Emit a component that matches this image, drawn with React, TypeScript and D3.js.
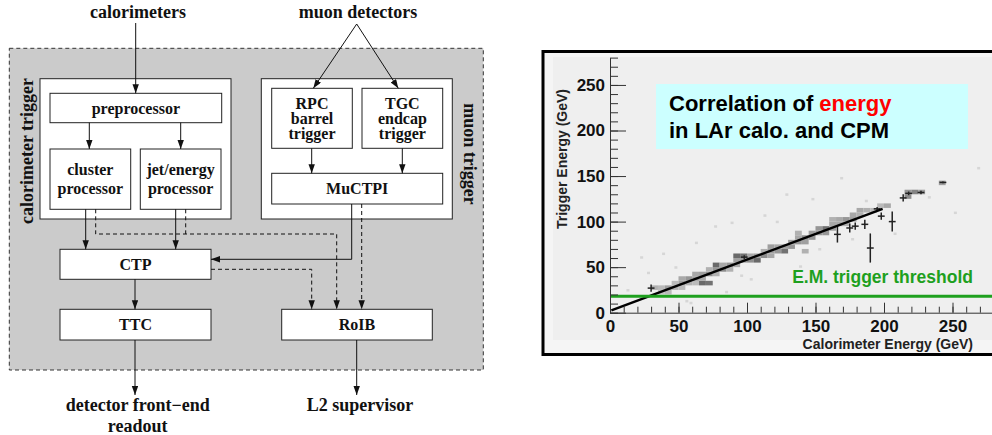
import React, { useEffect, useRef } from 'react';
import * as d3 from 'd3';

// ---- chart data ----
const xMajorTicks = [0, 50, 100, 150, 200, 250];
const yMajorTicks = [0, 50, 100, 150, 200, 250];
const axisMax = 280;

// 2D histogram bins: [calo energy low edge, trigger energy low edge, weight 0..1]
const histBins: [number, number, number][] = [
  [30, 25, 0.35], [35, 20, 0.25], [35, 25, 0.3], [40, 20, 0.3], [40, 25, 0.45], [45, 25, 0.35], [45, 30, 0.3],
  [50, 25, 0.3], [50, 30, 0.45], [50, 35, 0.4], [55, 30, 0.35], [55, 35, 0.5], [60, 30, 0.3], [60, 35, 0.45], [60, 40, 0.4],
  [65, 30, 0.75], [65, 35, 0.4], [65, 40, 0.45], [70, 30, 0.7], [70, 40, 0.55], [70, 45, 0.35],
  [75, 40, 0.35], [75, 45, 0.5], [75, 50, 0.75], [80, 45, 0.55], [80, 50, 0.4], [85, 45, 0.35], [85, 50, 0.5],
  [90, 50, 0.4], [90, 55, 0.45], [90, 60, 0.75], [95, 55, 0.5], [95, 60, 0.7], [100, 55, 0.55], [100, 60, 0.4],
  [105, 55, 0.75], [105, 60, 0.45], [110, 60, 0.55], [110, 65, 0.35], [115, 60, 0.4], [115, 65, 0.45], [115, 70, 0.45],
  [120, 65, 0.5], [120, 70, 0.4], [125, 65, 0.7], [125, 70, 0.45], [130, 70, 0.5], [130, 75, 0.45],
  [135, 75, 0.5], [135, 80, 0.4], [135, 85, 0.35], [140, 65, 0.35], [140, 75, 0.45], [140, 80, 0.55],
  [145, 80, 0.5], [145, 85, 0.45], [150, 85, 0.5], [150, 90, 0.5], [155, 85, 0.5], [155, 90, 0.7],
  [160, 90, 0.45], [160, 95, 0.4], [160, 100, 0.35], [165, 95, 0.4], [165, 100, 0.4], [170, 95, 0.35], [170, 100, 0.5],
  [175, 100, 0.45], [175, 105, 0.4], [180, 105, 0.35], [180, 110, 0.4], [185, 110, 0.35], [190, 110, 0.3],
  [195, 115, 0.3], [200, 115, 0.4], [215, 125, 0.55], [215, 130, 0.5], [220, 130, 0.6], [225, 130, 0.45], [240, 140, 0.45],
];

// faint single entries scattered around
const noiseE = [12, 22, 27, 38, 47, 58, 62, 76, 88, 95, 112, 121, 128, 138, 147, 152, 168, 176, 186, 207, 232, 251, 268, 55, 84, 102];
const noiseT = [26, 62, 45, 66, 51, 12, 78, 96, 100, 42, 108, 101, 131, 52, 126, 71, 149, 82, 124, 88, 128, 111, 160, 14, 24, 38];

// profile points: calo energy, mean trigger energy, error
const profE = [30, 98, 166, 175, 179, 186, 190, 195, 198, 206, 214, 218, 227, 243];
const profT = [27, 61, 86, 93, 95, 97, 71, 114, 106, 100, 126, 131, 132, 143];
const profErr = [4, 2, 9, 5, 4, 5, 16, 2, 4, 11, 4, 2, 2, 1];

const fitE = [1, 199];
const fitT = [2.5, 114];
const threshold = 18;

// ---- diagram layout ----
const diagramBoxes = [
  { x: 40, y: 78.7, w: 191, h: 140.3, lines: [] as string[] },
  { x: 261.3, y: 78.7, w: 191, h: 140.3, lines: [] as string[] },
  { x: 50, y: 93.3, w: 171.7, h: 29.4, lines: ['preprocessor'] },
  { x: 50, y: 149, w: 80.7, h: 60.3, lines: ['cluster', 'processor'] },
  { x: 140.3, y: 149, w: 80.7, h: 60.3, lines: ['jet/energy', 'processor'] },
  { x: 271.7, y: 88.3, w: 80.6, h: 60, lines: ['RPC', 'barrel', 'trigger'] },
  { x: 362, y: 88.3, w: 80.7, h: 60, lines: ['TGC', 'endcap', 'trigger'] },
  { x: 271.7, y: 173.3, w: 171, h: 30.7, lines: ['MuCTPI'] },
  { x: 60, y: 249.3, w: 151, h: 30, lines: ['CTP'] },
  { x: 60, y: 309.3, w: 151, h: 30.7, lines: ['TTC'] },
  { x: 281.7, y: 309.3, w: 150.6, h: 30.7, lines: ['RoIB'] },
];

const arrows: { pts: [number, number][]; dashed?: boolean; head?: boolean }[] = [
  { pts: [[135.7, 23], [135.7, 93.3]] },
  { pts: [[356.7, 24], [313.3, 88.3]] },
  { pts: [[356.7, 24], [398.3, 88.3]] },
  { pts: [[89.3, 122.7], [89.3, 149]] },
  { pts: [[180.7, 122.7], [180.7, 149]] },
  { pts: [[311.7, 148.3], [311.7, 173.3]] },
  { pts: [[402.3, 148.3], [402.3, 173.3]] },
  { pts: [[85.7, 209.3], [85.7, 249.3]] },
  { pts: [[175.7, 209.3], [175.7, 249.3]] },
  { pts: [[351.7, 204], [351.7, 259.3], [211, 259.3]] },
  { pts: [[135, 279.3], [135, 309.3]] },
  { pts: [[135, 340], [135, 395]] },
  { pts: [[356.7, 340], [356.7, 395]] },
  { pts: [[95.7, 209.3], [95.7, 234], [336.7, 234], [336.7, 309.3]], dashed: true },
  { pts: [[185.7, 209.3], [185.7, 234]], dashed: true, head: false },
  { pts: [[361.7, 204], [361.7, 309.3]], dashed: true },
  { pts: [[211, 269.3], [311.7, 269.3], [311.7, 309.3]], dashed: true },
];

const serif = '"Liberation Serif", "Times New Roman", serif';
const sans = '"Liberation Sans", Arial, sans-serif';

export default function App() {
  const svgRef = useRef<SVGSVGElement>(null);

  useEffect(() => {
    if (!svgRef.current) return;
    const svg = d3.select(svgRef.current);
    svg.selectAll('*').remove();

    // ===== block diagram =====
    const defs = svg.append('defs');
    defs.append('marker')
      .attr('id', 'head')
      .attr('markerUnits', 'userSpaceOnUse')
      .attr('markerWidth', 10).attr('markerHeight', 7)
      .attr('refX', 9).attr('refY', 3.2)
      .attr('orient', 'auto')
      .append('path').attr('d', 'M0,0 L9,3.2 L0,6.4 Z').attr('fill', '#111');

    const dg = svg.append('g');
    dg.append('rect')
      .attr('x', 9.3).attr('y', 48.3).attr('width', 474).attr('height', 321.7)
      .attr('fill', '#cbcbcb').attr('stroke', '#333').attr('stroke-dasharray', '4,3');

    diagramBoxes.forEach(b => {
      dg.append('rect')
        .attr('x', b.x).attr('y', b.y).attr('width', b.w).attr('height', b.h)
        .attr('fill', '#fff').attr('stroke', '#222').attr('stroke-width', 1);
      const n = b.lines.length;
      const cx = b.x + b.w / 2;
      const cy = b.y + b.h / 2;
      const gap = n === 2 ? 19.5 : 14.7;
      b.lines.forEach((t, i) => {
        dg.append('text')
          .attr('x', cx)
          .attr('y', cy + (i - (n - 1) / 2) * gap + 5.5)
          .attr('text-anchor', 'middle')
          .attr('font-family', serif).attr('font-weight', 'bold').attr('font-size', 16)
          .attr('fill', '#111')
          .text(t);
      });
    });

    const line = d3.line<[number, number]>();
    arrows.forEach(a => {
      const p = dg.append('path')
        .attr('d', line(a.pts))
        .attr('fill', 'none').attr('stroke', '#111').attr('stroke-width', 1);
      if (a.dashed) p.attr('stroke-dasharray', '4,3');
      if (a.head !== false) p.attr('marker-end', 'url(#head)');
    });

    const outside = [
      { t: 'calorimeters', x: 138, y: 18.3 },
      { t: 'muon detectors', x: 358, y: 18.3 },
      { t: 'detector front\u2212end', x: 137.7, y: 411 },
      { t: 'readout', x: 137.7, y: 431.5 },
      { t: 'L2 supervisor', x: 360, y: 411 },
    ];
    outside.forEach(o => {
      dg.append('text').attr('x', o.x).attr('y', o.y)
        .attr('text-anchor', 'middle')
        .attr('font-family', serif).attr('font-weight', 'bold').attr('font-size', 18)
        .attr('fill', '#111').text(o.t);
    });
    dg.append('text')
      .attr('transform', 'translate(33,151) rotate(-90)')
      .attr('text-anchor', 'middle')
      .attr('font-family', serif).attr('font-weight', 'bold').attr('font-size', 18)
      .attr('fill', '#111').text('calorimeter trigger');
    dg.append('text')
      .attr('transform', 'translate(463.7,154) rotate(90)')
      .attr('text-anchor', 'middle')
      .attr('font-family', serif).attr('font-weight', 'bold').attr('font-size', 18)
      .attr('fill', '#111').text('muon trigger');

    // ===== correlation plot =====
    const cg = svg.append('g');
    cg.append('rect')
      .attr('x', 543).attr('y', 51.5).attr('width', 470).attr('height', 303)
      .attr('fill', '#f5f5f5').attr('stroke', '#000').attr('stroke-width', 3);
    cg.append('rect')
      .attr('x', 553).attr('y', 57).attr('width', 460).attr('height', 283)
      .attr('fill', '#efefef');

    const x = d3.scaleLinear().domain([0, axisMax]).range([610, 610 + 1.37 * axisMax]);
    const y = d3.scaleLinear().domain([0, axisMax]).range([312.7, 312.7 - 0.911 * axisMax]);

    // title box
    cg.append('rect')
      .attr('x', 656).attr('y', 84).attr('width', 312).attr('height', 65)
      .attr('fill', '#ccffff');
    const t1 = cg.append('text')
      .attr('x', 669).attr('y', 111)
      .attr('font-family', sans).attr('font-weight', 'bold').attr('font-size', 22).attr('fill', '#000');
    t1.append('tspan').text('Correlation of ');
    t1.append('tspan').attr('fill', '#ff0000').text('energy');
    cg.append('text')
      .attr('x', 669).attr('y', 137.7)
      .attr('font-family', sans).attr('font-weight', 'bold').attr('font-size', 22).attr('fill', '#000')
      .text('in LAr calo. and CPM');

    // faint scattered entries
    cg.append('g').selectAll('rect')
      .data(noiseE.map((e, i) => [e, noiseT[i]]))
      .enter().append('rect')
      .attr('x', d => x(d[0]))
      .attr('y', d => y(d[1]))
      .attr('width', 3).attr('height', 2.5)
      .attr('fill', '#d6d6d6');

    const shade = d3.scaleLinear<string>().domain([0, 1]).range(['#f0f0f0', '#3c3c3c']);
    cg.append('g').selectAll('rect')
      .data(histBins)
      .enter().append('rect')
      .attr('x', d => x(d[0]))
      .attr('y', d => y(d[1] + 5))
      .attr('width', d => x(d[0] + 5) - x(d[0]))
      .attr('height', d => y(d[1]) - y(d[1] + 5))
      .attr('fill', d => shade(d[2]));

    // profile crosses
    const prof = cg.append('g').attr('stroke', '#222').attr('stroke-width', 1.5);
    profE.forEach((e, i) => {
      prof.append('line')
        .attr('x1', x(e)).attr('x2', x(e))
        .attr('y1', y(profT[i] - profErr[i])).attr('y2', y(profT[i] + profErr[i]));
      prof.append('line')
        .attr('x1', x(e - 2.5)).attr('x2', x(e + 2.5))
        .attr('y1', y(profT[i])).attr('y2', y(profT[i]));
    });

    // fit line
    cg.append('path')
      .datum(fitE.map((e, i) => [e, fitT[i]] as [number, number]))
      .attr('d', d3.line<[number, number]>().x(d => x(d[0])).y(d => y(d[1])))
      .attr('stroke', '#000').attr('stroke-width', 2.5).attr('fill', 'none');

    // threshold
    cg.append('line')
      .attr('x1', x(0)).attr('x2', 992)
      .attr('y1', y(threshold)).attr('y2', y(threshold))
      .attr('stroke', '#1ea01e').attr('stroke-width', 3);
    cg.append('text')
      .attr('x', 973).attr('y', 283.3)
      .attr('text-anchor', 'end')
      .attr('font-family', sans).attr('font-weight', 'bold').attr('font-size', 17.5)
      .attr('fill', '#1ea01e').text('E.M. trigger threshold');

    // axes
    const minor = d3.range(0, axisMax + 1, 10);
    const styleAxis = (g: d3.Selection<SVGGElement, unknown, null, undefined>) => {
      g.selectAll('path').attr('stroke', '#333');
      g.selectAll('line').attr('stroke', '#333');
      g.selectAll('text')
        .attr('font-family', sans).attr('font-weight', 'bold').attr('font-size', 17).attr('fill', '#111');
    };

    const yMinor = cg.append('g').attr('transform', `translate(${x(0)},0)`)
      .call(d3.axisLeft(y).tickValues(minor).tickSize(-8).tickSizeOuter(0).tickFormat(() => ''));
    styleAxis(yMinor);
    const yMajor = cg.append('g').attr('transform', `translate(${x(0)},0)`)
      .call(d3.axisLeft(y).tickValues(yMajorTicks).tickSize(-16).tickSizeOuter(0).tickPadding(5).tickFormat(d3.format('d')));
    styleAxis(yMajor);
    yMajor.select('.domain').remove();

    const xMinor = cg.append('g').attr('transform', `translate(0,${y(0)})`)
      .call(d3.axisBottom(x).tickValues(minor).tickSize(-6).tickSizeOuter(0).tickFormat(() => ''));
    styleAxis(xMinor);
    const xMajor = cg.append('g').attr('transform', `translate(0,${y(0)})`)
      .call(d3.axisBottom(x).tickValues(xMajorTicks).tickSize(-10).tickSizeOuter(0).tickPadding(7).tickFormat(d3.format('d')));
    styleAxis(xMajor);
    xMajor.select('.domain').remove();

    cg.append('text')
      .attr('transform', 'translate(567,159) rotate(-90)')
      .attr('text-anchor', 'middle')
      .attr('font-family', sans).attr('font-weight', 'bold').attr('font-size', 14).attr('fill', '#222')
      .text('Trigger Energy (GeV)');
    cg.append('text')
      .attr('x', 973).attr('y', 349.3)
      .attr('text-anchor', 'end')
      .attr('font-family', sans).attr('font-weight', 'bold').attr('font-size', 14).attr('fill', '#222')
      .text('Calorimeter Energy (GeV)');
  }, []);

  return (
    <div style={{ position: 'absolute', left: 0, top: 0 }}>
      <svg ref={svgRef} width={992} height={435} style={{ display: 'block', background: '#fff' }} />
    </div>
  );
}
